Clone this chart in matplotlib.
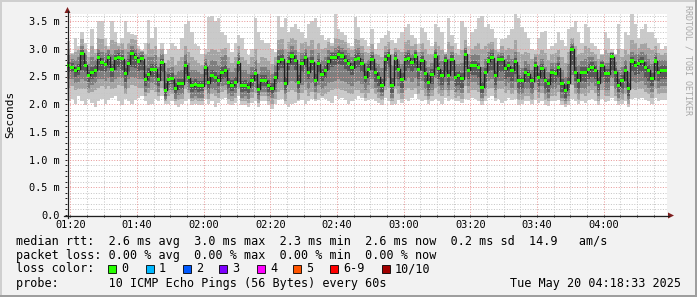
import numpy as np
import matplotlib
matplotlib.use("Agg")
import matplotlib.pyplot as plt
from matplotlib.patches import Rectangle, Polygon
from matplotlib.lines import Line2D
from matplotlib.ticker import FixedLocator

# ---------------- data (hundredths of a millisecond, one value per minute from 01:19) ----------------
median_rtt = [
    269,267,260,264,292,270,252,258,261,284,275,272,285,263,282,285,282,255,273,291,285,278,282,245,254,263,263,244,275,225,
    245,246,228,237,237,270,248,233,236,233,233,267,239,251,249,242,258,261,239,234,240,275,233,234,231,243,255,227,242,242,
    233,228,248,277,281,237,277,287,279,240,273,284,258,277,243,273,254,261,277,284,284,289,287,279,274,266,281,283,273,249,
    263,281,257,249,234,280,288,234,282,263,245,280,283,276,287,263,279,256,240,254,287,264,251,279,252,280,249,251,246,290,
    261,270,270,267,231,258,278,284,251,280,280,264,269,261,277,242,242,258,254,242,269,249,264,242,237,257,255,266,237,225,
    239,299,258,242,258,258,263,267,261,239,269,255,255,286,258,234,243,260,228,278,270,273,277,266,261,246,278,258,261,261,
]
ping_max = [
    314,293,320,305,330,310,295,335,300,350,350,320,305,350,330,310,320,350,330,326,325,305,298,310,352,320,340,300,310,290,
    300,310,305,300,320,345,350,330,308,305,290,300,358,360,350,355,330,325,310,295,310,325,320,300,288,300,355,330,315,310,
    310,300,295,360,340,355,330,340,345,335,330,320,345,350,355,340,325,315,320,310,362,335,330,325,310,305,358,340,320,315,
    305,335,300,310,320,325,332,315,310,320,330,340,345,325,320,308,338,330,315,305,345,340,330,295,355,325,310,300,350,340,
    305,330,335,355,360,340,345,335,320,300,318,320,325,335,362,355,340,330,320,300,298,320,330,332,300,305,310,330,315,305,
    335,340,350,330,310,345,340,310,305,300,290,330,320,300,290,345,300,330,325,362,345,320,335,345,330,330,320,310,300,305,
]
ping_p9 = [
    300,290,295,298,318,300,285,305,292,320,318,305,300,315,312,305,310,300,310,318,315,300,296,290,310,300,305,285,300,275,
    280,285,270,278,285,305,295,285,280,275,270,290,295,300,298,295,300,302,285,275,285,305,285,280,272,285,300,275,285,283,
    278,272,285,315,318,300,312,320,315,295,310,312,305,315,300,310,300,302,312,305,320,318,315,312,302,298,318,315,305,295,
    292,308,290,288,285,305,312,290,302,298,295,312,315,305,308,295,310,300,290,290,312,305,298,290,312,305,292,288,298,315,
    290,300,305,310,300,305,310,312,298,295,305,298,302,300,315,295,290,295,292,282,290,290,298,292,280,290,292,298,285,275,
    295,320,305,290,292,305,302,295,290,282,288,298,292,295,288,300,285,298,290,315,310,302,308,310,302,298,305,292,288,292,
]
ping_p8 = [
    288,282,280,285,305,290,272,285,280,300,295,292,298,290,298,300,298,280,295,305,300,292,295,270,285,285,288,268,290,260,
    265,268,252,260,262,290,275,262,262,258,255,282,270,280,278,270,285,288,265,258,265,292,262,262,255,268,280,255,268,268,
    262,255,270,298,300,275,295,305,298,272,292,300,285,298,275,292,280,285,298,295,302,305,302,298,292,285,300,302,292,275,
    280,295,275,272,265,295,300,270,295,280,272,295,298,290,298,280,295,278,268,275,300,288,278,290,282,295,272,272,275,302,
    278,288,290,288,268,282,295,300,275,290,292,282,288,282,295,270,265,278,272,262,285,270,282,268,258,275,275,285,262,250,
    272,310,285,270,278,282,285,285,278,262,280,275,275,292,276,262,268,280,258,295,290,290,295,290,282,272,292,280,280,280,
]
ping_p7 = [
    277,275,268,272,298,280,262,268,270,292,284,280,290,272,288,292,288,265,282,298,292,285,288,255,265,272,272,255,282,238,
    254,256,238,246,246,280,258,242,245,242,242,275,250,262,258,252,268,270,248,243,250,284,242,243,240,252,264,236,252,252,
    244,238,258,287,290,250,286,295,288,252,282,292,268,286,255,282,264,270,286,292,292,297,295,288,282,275,290,292,282,260,
    272,288,265,258,245,288,295,248,290,272,256,288,292,284,294,272,287,265,252,263,294,274,262,286,262,288,258,260,256,297,
    268,278,278,275,240,266,285,292,260,286,287,272,276,268,284,252,250,266,262,250,276,257,272,250,246,264,262,274,246,234,
    250,305,268,255,268,268,272,276,270,250,277,264,264,292,266,245,252,270,240,286,278,282,285,276,270,256,286,268,270,270,
]
ping_p4 = [
    258,258,250,252,262,258,240,245,250,262,260,258,265,250,262,268,262,240,258,268,265,260,262,232,242,250,248,232,258,215,
    235,236,218,226,228,255,238,222,226,222,223,252,228,240,238,232,245,248,228,224,230,258,222,224,220,232,242,217,232,232,
    222,218,236,262,265,225,262,270,262,228,258,268,245,262,232,258,242,248,262,268,270,272,270,264,260,252,265,268,258,238,
    248,262,240,232,222,260,268,220,262,245,230,260,265,258,265,245,260,238,225,236,265,245,235,258,235,260,232,235,230,268,
    245,252,252,248,220,240,258,262,235,258,258,245,250,242,255,228,228,240,238,228,250,232,245,228,222,238,238,248,222,212,
    226,270,242,228,242,240,245,250,245,225,250,238,238,262,240,222,228,242,215,258,252,255,258,248,242,232,258,242,245,245,
]
ping_p3 = [
    245,245,238,240,245,242,228,235,238,245,245,242,248,240,245,250,248,228,245,250,248,245,245,222,230,238,235,222,242,208,
    225,226,210,216,218,240,225,212,215,212,212,235,218,228,226,220,232,235,218,214,220,240,212,214,210,222,230,208,222,222,
    215,212,222,238,240,218,238,242,238,220,235,240,228,238,222,235,228,232,238,240,242,245,242,240,236,232,240,242,236,225,
    235,245,230,222,215,242,248,212,245,232,220,242,248,240,248,232,242,228,215,225,248,232,225,240,225,242,222,225,220,250,
    232,240,240,235,212,228,242,245,225,242,242,232,238,230,240,218,218,228,228,218,238,222,232,218,212,228,228,235,212,205,
    215,252,230,218,230,228,232,238,232,215,238,226,226,248,228,212,218,230,208,242,238,240,242,235,230,222,242,230,232,232,
]
ping_p2 = [
    230,232,225,228,228,228,220,222,225,230,232,228,232,228,230,235,232,218,230,235,232,230,230,215,220,225,222,215,230,205,
    215,218,205,208,210,228,220,205,208,205,206,225,210,218,215,212,222,225,210,206,212,228,205,206,203,212,220,202,214,214,
    205,200,210,222,225,205,222,225,222,208,220,225,215,222,210,220,215,218,222,225,228,228,226,224,220,218,225,226,220,212,
    220,228,218,212,208,225,230,205,228,218,210,225,230,225,230,218,225,215,208,215,230,218,215,225,215,225,212,215,210,232,
    220,225,225,222,205,215,228,230,212,228,228,220,225,218,226,208,208,215,215,208,225,212,220,208,205,215,215,222,205,200,
    205,235,218,208,218,215,220,225,220,205,225,215,215,232,215,205,208,218,200,228,225,228,228,222,218,212,228,218,220,220,
]
ping_min = [
    205,210,200,215,205,198,210,202,195,205,210,200,208,212,215,205,198,210,205,200,208,212,215,205,198,200,210,205,215,200,
    200,205,198,195,200,205,210,198,200,198,198,210,200,205,195,203,210,212,200,198,202,215,198,198,195,202,206,195,205,205,
    198,192,200,208,210,200,195,200,202,205,208,200,205,210,205,208,212,210,205,202,215,210,212,208,200,205,210,215,212,205,
    208,210,205,202,198,212,205,198,200,208,203,210,205,212,218,210,205,208,200,205,210,205,200,212,205,210,205,205,202,210,
    208,212,210,205,198,205,212,215,205,210,203,206,212,208,210,198,200,205,206,200,208,202,205,198,196,205,206,208,198,195,
    198,210,205,200,205,202,208,210,205,198,210,204,205,212,205,198,200,205,195,210,212,210,212,208,205,200,212,205,208,208,
]

xtick_minutes = [1, 21, 41, 61, 81, 101, 121, 141, 161]
xtick_labels = ["01:20", "01:40", "02:00", "02:20", "02:40", "03:00", "03:20", "03:40", "04:00"]
ytick_values = [0.0, 0.5, 1.0, 1.5, 2.0, 2.5, 3.0, 3.5]
ytick_labels = ["0.0", "0.5 m", "1.0 m", "1.5 m", "2.0 m", "2.5 m", "3.0 m", "3.5 m"]

loss_labels = ["0", "1", "2", "3", "4", "5", "6-9", "10/10"]
loss_colors = ["#26ff00", "#00b8ff", "#0059ff", "#7e00ff", "#ff00ff", "#ff5500", "#ff0000", "#a10000"]

legend_lines = [
    "median rtt:  2.6 ms avg  3.0 ms max  2.3 ms min  2.6 ms now  0.2 ms sd  14.9   am/s",
    "packet loss: 0.00 % avg  0.00 % max  0.00 % min  0.00 % now",
    "loss color:",
    "probe:       10 ICMP Echo Pings (56 Bytes) every 60s",
]
timestamp = "Tue May 20 04:18:33 2025"
watermark = "RRDTOOL / TOBI OETIKER"

# ---------------- figure ----------------
W, H = 697, 297
MONO = "DejaVu Sans Mono"
plt.rcParams["font.family"] = MONO

def fx(x):
    return x / W

def fy(y):
    return 1 - y / H

fig = plt.figure(figsize=(W / 100, H / 100), dpi=100, facecolor="#f2f2f2")

# frame shading
fig.add_artist(Rectangle((0, fy(2)), 1, 2 / H, transform=fig.transFigure, color="#cfcfcf", lw=0))
fig.add_artist(Rectangle((0, 0), 2 / W, 1, transform=fig.transFigure, color="#cfcfcf", lw=0))
fig.add_artist(Rectangle((0, 0), 1, 2 / H, transform=fig.transFigure, color="#9e9e9e", lw=0))
fig.add_artist(Rectangle((fx(695), 0), 2 / W, 1, transform=fig.transFigure, color="#9e9e9e", lw=0))

ax_left, ax_right, ax_top, ax_bottom = 67, 667, 14, 215
ax = fig.add_axes([fx(ax_left), fy(ax_bottom), (ax_right - ax_left) / W, (ax_bottom - ax_top) / H])
ax.set_facecolor("white")
for s in ax.spines.values():
    s.set_visible(False)

n = len(median_rtt)
t = np.arange(n + 1)

def ext(a):
    a = np.asarray(a, dtype=float) / 100.0
    return np.append(a, a[-1])

med = ext(median_rtt)
p10 = ext(ping_max)
p9 = np.minimum(ext(ping_p9), p10)
p8 = np.minimum(ext(ping_p8), p9)
p7 = np.minimum(ext(ping_p7), p8)
p1 = ext(ping_min)
p2 = np.maximum(ext(ping_p2), p1)
p3 = np.maximum(ext(ping_p3), p2)
p4 = np.maximum(ext(ping_p4), p3)

layers = [(p1, p10, "#cacaca"), (p2, p9, "#a4a4a4"), (p3, p8, "#7e7e7e"), (p4, p7, "#585858")]
for lo, hi, col in layers:
    ax.fill_between(t, lo, hi, step="post", color=col, lw=0, antialiased=False, zorder=1)

ax.step(t, med, where="post", color="#202020", lw=1.0, zorder=2.8)
box_h = 0.055
ax.bar(np.arange(n), box_h, bottom=np.asarray(median_rtt) / 100.0 - box_h / 2, width=1.0,
       align="edge", color=loss_colors[0], lw=0, zorder=3)

ymax = (ax_bottom - ax_top) / 55.4
ax.set_xlim(0, n)
ax.set_ylim(0, ymax)

# grid lines (dotted, drawn over the smoke like rrdtool)
minor_x = [m for m in range(1, n, 5) if m not in xtick_minutes]
minor_y = [k / 10 for k in range(0, 37) if (k % 5) != 0]
grid_kw = dict(lw=0.72, ls=(0, (1.0, 1.6)), zorder=2.5)
for m in minor_x:
    ax.axvline(m, color="#c6c6c6", **grid_kw)
for v in minor_y:
    ax.axhline(v, color="#c6c6c6", **grid_kw)
for m in xtick_minutes:
    ax.axvline(m, color="#e99a9a", **grid_kw)
for v in ytick_values[1:]:
    ax.axhline(v, color="#e99a9a", **grid_kw)

ax.set_xticks(xtick_minutes)
ax.set_xticklabels(xtick_labels)
ax.xaxis.set_minor_locator(FixedLocator(minor_x))
ax.set_yticks(ytick_values)
ax.set_yticklabels(ytick_labels)
ax.yaxis.set_minor_locator(FixedLocator(minor_y))

ax.tick_params(which="both", direction="out", length=1.5, width=0.72, color="#1f1f1f")
ax.tick_params(axis="x", which="both", labelsize=7.4, pad=2.0)
ax.tick_params(axis="y", which="both", labelsize=7.4, pad=3.8)

# axis lines + arrows
axis_col = "#1f1f1f"
arrow_col = "#801f1f"
fig.add_artist(Line2D([fx(67.5), fx(67.5)], [fy(218), fy(11)], transform=fig.transFigure, color=axis_col, lw=0.9))
fig.add_artist(Line2D([fx(64), fx(669)], [fy(215.5), fy(215.5)], transform=fig.transFigure, color=axis_col, lw=0.9))
fig.add_artist(Polygon([[fx(67.5), fy(7)], [fx(64.5), fy(13)], [fx(70.5), fy(13)]], closed=True,
                       transform=fig.transFigure, color=arrow_col, lw=0))
fig.add_artist(Polygon([[fx(674), fy(215.5)], [fx(668), fy(212.5)], [fx(668), fy(218.5)]], closed=True,
                       transform=fig.transFigure, color=arrow_col, lw=0))

# y label & watermark
fig.text(fx(10), fy(114), "Seconds", rotation=90, ha="center", va="center", fontsize=8, color="black")
fig.text(fx(688), fy(60), watermark, rotation=270, ha="center", va="center", fontsize=6, color="#a8a8a8")

# legend text
rows_y = [241, 255, 269, 283]
for line, yy in zip(legend_lines, rows_y):
    fig.text(fx(16), fy(yy), line, ha="left", va="center", fontsize=8.5, color="black")
fig.text(fx(681), fy(283), timestamp, ha="right", va="center", fontsize=8.5, color="black")

box_x = [108, 146, 183, 219, 257, 293, 330, 382]
for bx, lab, col in zip(box_x, loss_labels, loss_colors):
    fig.add_artist(Rectangle((fx(bx), fy(273)), 8 / W, 8 / H, transform=fig.transFigure,
                             facecolor=col, edgecolor="black", lw=0.6))
    fig.text(fx(bx + 13), fy(269), lab, ha="left", va="center", fontsize=8.5, color="black")

fig.savefig("out.png", dpi=100, facecolor=fig.get_facecolor())
